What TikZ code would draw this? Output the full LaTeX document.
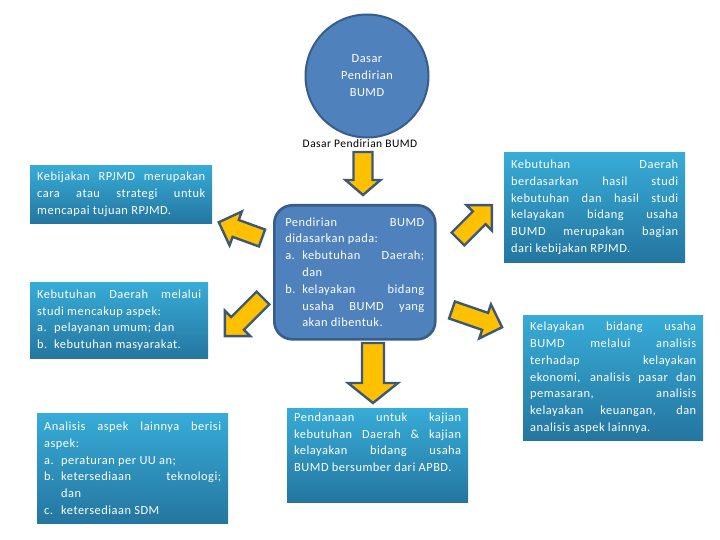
\documentclass[tikz,border=0pt]{standalone}
\usepackage{fontspec}
\setmainfont{Carlito}[LetterSpace=4]
\definecolor{bumdblue}{RGB}{79,129,189}
\definecolor{bumdedge}{RGB}{56,93,138}
\definecolor{arrfill}{RGB}{255,192,0}
\definecolor{arredge}{RGB}{60,88,118}
\definecolor{tealtop}{RGB}{55,172,215}
\definecolor{tealbot}{RGB}{36,118,160}
\newcommand{\itemline}[2]{\par{\leftskip=17pt\noindent\hspace*{-17pt}\makebox[17pt][l]{#1}#2\par}}
\newcommand{\blockarrow}[7]{% x, y (tail centre), angle, length, shaft half, head half, head length
  \begin{scope}[shift={(#1,#2)}, rotate=#3]
    \draw[yellowarrow] (0,-#5) -- ({#4-#7},-#5) -- ({#4-#7},-#6) -- (#4,0)
      -- ({#4-#7},#6) -- ({#4-#7},#5) -- (0,#5) -- cycle;
  \end{scope}}
\newcommand{\boxfont}{\fontsize{12.4}{16.8}\selectfont}
\tikzset{
  yellowarrow/.style={fill=arrfill, draw=arredge, line width=2.4pt, line join=miter},
  tealbox/.style={anchor=north west, top color=tealtop, bottom color=tealbot,
    draw=none, text=white, inner xsep=7pt, inner ysep=3pt, align=justify,
    font=\boxfont},
  centralbox/.style={anchor=north west, fill=bumdblue, draw=bumdedge, line width=2.6pt,
    rounded corners=18pt, text=white, inner xsep=11pt, align=justify,
    font=\boxfont},
}
\begin{document}
\sloppy
\hyphenpenalty=10000
\exhyphenpenalty=10000
\begin{tikzpicture}[x=1pt,y=-1pt]
\useasboundingbox (0,0) rectangle (720,540);
\fill[white] (0,0) rectangle (720,540);

% circle
\node (circ) [circle, fill=bumdblue, draw=bumdedge, line width=2pt, minimum size=123pt,
  text=white, align=center, font=\fontsize{12.4}{17}\selectfont] at (367,76)
  {Dasar\\Pendirian\\BUMD};
\node (lbl) [font=\fontsize{11.5}{14}\selectfont] at (360,144) {Dasar Pendirian BUMD};

% central box
\node (cen) [centralbox, text width=139pt, minimum width=161pt, minimum height=134pt] at (273,204)
{Pendirian BUMD\linebreak didasarkan pada:
\itemline{a.}{kebutuhan Daerah;\linebreak dan}
\itemline{b.}{kelayakan bidang\linebreak usaha BUMD yang\linebreak akan dibentuk.}};

% teal boxes
\node (b1) [tealbox, text width=168pt, minimum width=182pt, minimum height=58pt] at (30,165)
{Kebijakan RPJMD merupakan\linebreak cara atau strategi untuk\linebreak mencapai tujuan RPJMD.};

\node (b2) [tealbox, text width=164pt, minimum width=178pt, minimum height=76pt] at (30,282)
{Kebutuhan Daerah melalui\linebreak studi mencakup aspek:
\itemline{a.}{pelayanan umum; dan}
\itemline{b.}{kebutuhan masyarakat.}};

\node (b3) [tealbox, text width=177pt, minimum width=191pt, minimum height=110pt] at (37,413)
{Analisis aspek lainnya berisi\linebreak aspek:
\itemline{a.}{peraturan per UU an;}
\itemline{b.}{ketersediaan teknologi;\linebreak dan}
\itemline{c.}{ketersediaan SDM}};

\node (b4) [tealbox, text width=167pt, minimum width=181pt, minimum height=110pt] at (504,152)
{Kebutuhan Daerah\linebreak berdasarkan hasil studi\linebreak kebutuhan dan hasil studi\linebreak kelayakan bidang usaha\linebreak BUMD merupakan bagian\linebreak dari kebijakan RPJMD.};

\node (b5) [tealbox, text width=166pt, minimum width=180pt, minimum height=125pt] at (523,315)
{Kelayakan bidang usaha\linebreak BUMD melalui analisis\linebreak terhadap kelayakan\linebreak ekonomi, analisis pasar dan\linebreak pemasaran, analisis\linebreak kelayakan keuangan, dan\linebreak analisis aspek lainnya.};

\node (b6) [tealbox, text width=167pt, minimum width=181pt, minimum height=94pt] at (287,408)
{Pendanaan untuk kajian\linebreak kebutuhan Daerah \& kajian\linebreak kelayakan bidang usaha\linebreak BUMD bersumber dari APBD.\par\vspace{26pt}};

% block arrows
\blockarrow{363}{152}{-90}{43}{9.5}{17.5}{15}
\blockarrow{373}{343}{-90}{60}{11}{25}{20}
\blockarrow{262}{238}{160}{46}{9}{18}{18}
\blockarrow{263}{298}{225}{54}{9}{18}{18}
\blockarrow{458}{239}{45}{48}{9}{18}{18}
\blockarrow{452}{310}{-19}{53}{9}{18}{18}
\end{tikzpicture}
\end{document}
